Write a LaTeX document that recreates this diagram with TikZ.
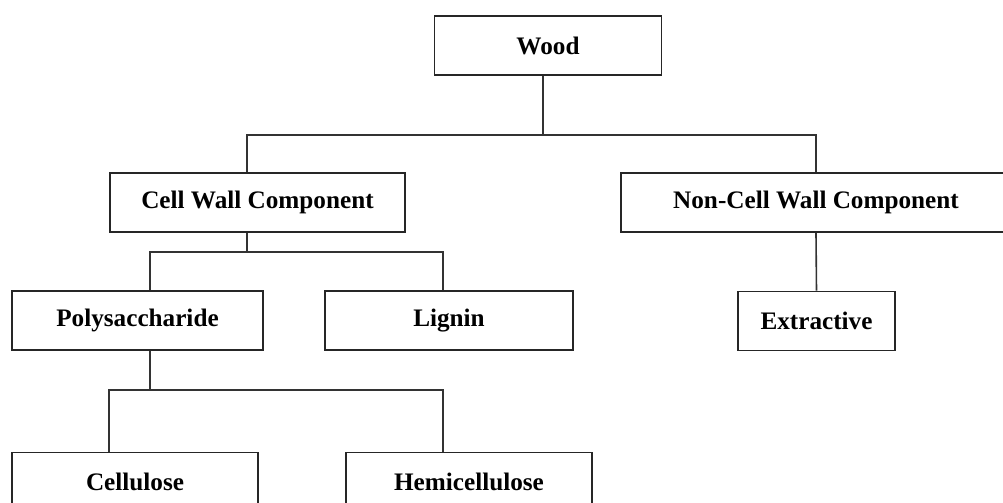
\documentclass[tikz,border=0pt]{standalone}
\usepackage{fontspec}
\setmainfont{Liberation Serif}
\usepackage{tikz}
\usetikzlibrary{calc}
\tikzset{
    part/.style={draw=black!85, line width=0.9pt, rectangle, inner sep=0pt,
        minimum height=29.5pt, font=\fontsize{12.6}{15}\selectfont\bfseries},
    link/.style={draw=black!80, line width=0.8pt}
}

\begin{document}
\begin{tikzpicture}[x=0.5pt, y=-0.5pt]
        \useasboundingbox (0,0) rectangle (1003,503);
        \clip (0,0) rectangle (1003,503);

        \node[part, minimum width=113.5pt] (wood) at (548,45.5) {Wood};
        \node[part, minimum width=147.5pt] (cwc) at (257.5,202.5) {Cell Wall Component};
        \node[part, minimum width=195pt] (ncwc) at (816,202.5) {Non-Cell Wall Component};
        \node[part, minimum width=125.5pt] (poly) at (137.5,320.5) {Polysaccharide};
        \node[part, minimum width=124pt] (lignin) at (449,320.5) {Lignin};
        \node[part, minimum width=78.5pt] (extr) at (816.5,321) {Extractive};
        \node[part, minimum width=123pt] (cell) at (135,482) {Cellulose};
        \node[part, minimum width=123pt] (hemi) at (469,482) {Hemicellulose};

        \coordinate (j1) at (543,135);
        \coordinate (j2) at (247,252);
        \coordinate (j3) at (150,390);

        \draw[link] (wood.south -| j1) -- (j1);
        \draw[link] (cwc.north -| j2) |- (j1) -| (ncwc.north);
        \draw[link] (ncwc.south) -- (extr.north);

        \draw[link] (cwc.south -| j2) -- (j2);
        \draw[link] (poly.north -| j3) |- (j2) -| ([xshift=-3pt]lignin.north);

        \draw[link] (poly.south -| j3) -- (j3);
        \draw[link] ([xshift=-13pt]cell.north) |- (j3) -| ([xshift=-13pt]hemi.north);
    \end{tikzpicture}
\end{document}
